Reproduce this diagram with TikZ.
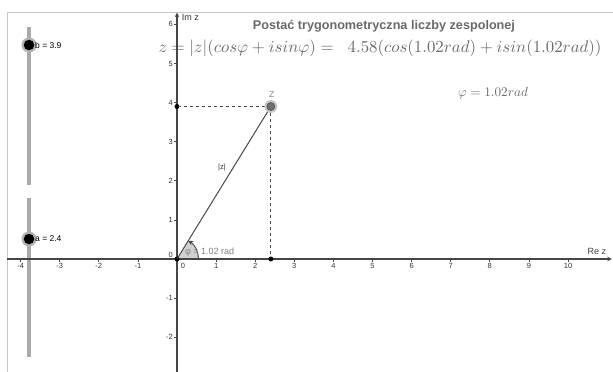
\documentclass[tikz,border=0pt]{standalone}
\usepackage[no-math]{fontspec}
\setmainfont{Liberation Sans}
\usepackage{graphicx}
\usetikzlibrary{arrows.meta}
\definecolor{axisc}{RGB}{70,70,70}
\definecolor{framec}{RGB}{200,200,200}
\definecolor{slidec}{RGB}{170,170,170}
\definecolor{textc}{RGB}{105,105,105}
\definecolor{ptc}{RGB}{110,110,110}
\tikzset{
  axis/.style={axisc, line width=1.3pt},
  ticklab/.style={font=\fontsize{7.5}{9}\selectfont, text=black!80, inner sep=1pt},
  slider/.style={slidec, line width=4pt},
  dashl/.style={axisc, dashed, dash pattern=on 3pt off 3pt, line width=0.9pt},
  axdot/.style={circle, fill=black, inner sep=0pt, minimum size=5pt},
}
\begin{document}
\begin{tikzpicture}[x=1pt,y=-1pt]
\useasboundingbox (0,0) rectangle (613,372);
\draw[framec, line width=0.8pt] (7,372) -- (7,12) -- (613,12);
% sliders
\draw[slider] (29,27) -- (29,185);
\draw[slider] (29,198) -- (29,357);
\fill[black!30] (29,45) circle (7.5);
\node[circle, fill=black, inner sep=0pt, minimum size=10.5pt] (bs) at (29,45) {};
\node[anchor=west, font=\fontsize{8.5}{10}\selectfont, inner sep=0pt] (bl) at (35,45) {b = 3.9};
\fill[black!30] (29,239) circle (7.5);
\node[circle, fill=black, inner sep=0pt, minimum size=10.5pt] (as) at (29,239) {};
\node[anchor=west, font=\fontsize{8.5}{10}\selectfont, inner sep=0pt] (al) at (35,239) {a = 2.4};
% texts
\node[font=\bfseries, text=textc, inner sep=0pt] (title) at (384,26) {\resizebox{262pt}{!}{Postać trygonometryczna liczby zespolonej}};
\node[text=textc, inner sep=0pt] (formula) at (380,48) {\resizebox{443pt}{!}{$z = |z|(cos\varphi + isin\varphi) =\ \ 4.58(cos(1.02rad)+isin(1.02rad))$}};
\node[text=textc, inner sep=0pt] (phi) at (493,93) {\resizebox{70pt}{!}{$\varphi = 1.02rad$}};
\begin{scope}[shift={(177,259)}, x=39.1pt, y=39.1pt]
  \coordinate (O) at (0,0);
  \coordinate (xe) at (11.12,0);
  \coordinate (xs) at (-4.35,0);
  \coordinate (ys) at (0,-2.9);
  \coordinate (ye) at (0,6.3);
  % angle sector
  \fill[black!18] (0,0) -- (0.55,0) arc[start angle=0, end angle=58.4, radius=0.55] -- cycle;
  \draw[axisc, line width=0.9pt, -{Stealth[length=5pt,width=5pt]}] (0.55,0) arc[start angle=0, end angle=58.4, radius=0.55];
  % axes
  \draw[axis, -{Stealth[length=4.5pt,width=4.5pt]}] (xs) -- (xe);
  \draw[axis, -{Stealth[length=4.5pt,width=4.5pt]}] (ys) -- (ye);
  \foreach \i in {-4,...,-1,1,2,...,10} {
    \draw[axisc, line width=0.8pt] (\i,0) -- (\i,-0.07);
    \node[ticklab, below] at (\i,-0.08) {\i};
  }
  \node[ticklab, below] at (0.15,-0.08) {0};
  \foreach \j in {-2,-1,1,2,...,6} {
    \draw[axisc, line width=0.8pt] (0,\j) -- (-0.07,\j);
    \node[ticklab, left] at (-0.08,\j) {\j};
  }
  \node[ticklab, left] at (-0.08,0.1) {0};
  \node[font=\fontsize{9}{10}\selectfont, text=black!80, anchor=west, inner sep=0pt] (imz) at (0.12,6.18) {Im z};
  \node[font=\fontsize{9}{10}\selectfont, text=black!75, anchor=east, inner sep=0pt] (rez) at (10.98,0.2) {Re z};
  % point Z
  \coordinate (Zc) at (2.4,3.9);
  \node[axdot] (pO) at (0,0) {};
  \node[axdot] (pX) at (2.4,0) {};
  \node[axdot] (pY) at (0,3.9) {};
  \draw[dashl] (Zc) -- (pX);
  \draw[dashl] (Zc) -- (pY);
  \draw[axisc, line width=1pt] (pO.center) -- (Zc);
  \fill[black!22] (Zc) circle (6.5pt);
  \node[circle, fill=ptc, draw=black!70, line width=0.6pt, inner sep=0pt, minimum size=8pt] (Z) at (Zc) {};
  \node[font=\fontsize{8.5}{9}\selectfont, text=black!50, inner sep=0pt] (zl) at (2.42,4.2) {Z};
  \node[font=\fontsize{7.5}{8}\selectfont, text=black!80, inner sep=0pt] (modl) at (1.15,2.35) {|z|};
  \node[font=\fontsize{9}{10}\selectfont, text=black!50, anchor=west, inner sep=0pt] (angl) at (0.2,0.17) {φ = 1.02 rad};
\end{scope}
\end{tikzpicture}
\end{document}
